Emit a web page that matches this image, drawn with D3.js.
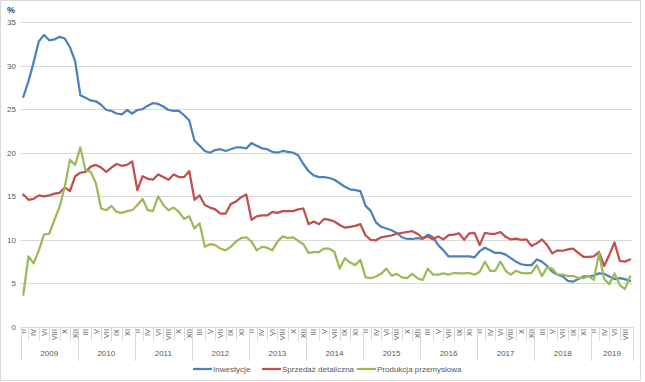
<!DOCTYPE html>
<html><head><meta charset="utf-8">
<script src="https://cdn.jsdelivr.net/npm/d3@7"></script>
<style>
html,body{margin:0;padding:0;background:#fff;}
svg{display:block;font-family:"Liberation Sans",Arial,sans-serif;}
</style></head>
<body>
<svg id="chart" width="645" height="382"></svg>
<script>
// ---- data ----
const years = ["2009","2010","2011","2012","2013","2014","2015","2016","2017","2018","2019"];
const monthLabels = ["II","III","IV","V","VI","VII","VIII","IX","X","XI","XII"];
const lastYearMonthCount = 8; // 2019: II..IX
const yTicks = [0,5,10,15,20,25,30,35];
const seriesNames = ["Inwestycje","Sprzedaż detaliczna","Produkcja przemysłowa"];

const inwestycje = [26.4,28.2,30.4,32.8,33.5,32.9,33.0,33.3,33.1,32.1,30.5,
 26.6,26.3,26.0,25.9,25.5,24.9,24.8,24.5,24.4,24.9,24.5,
 24.9,25.0,25.4,25.7,25.6,25.3,24.9,24.8,24.8,24.3,23.7,
 21.4,20.8,20.2,20.0,20.3,20.4,20.2,20.4,20.6,20.6,20.5,
 21.1,20.8,20.5,20.4,20.1,20.0,20.2,20.1,20.0,19.7,18.7,
 17.9,17.4,17.2,17.2,17.1,16.9,16.5,16.1,15.8,15.7,15.6,
 13.9,13.3,12.0,11.5,11.3,11.1,10.8,10.3,10.1,10.1,10.2,
 10.1,10.6,10.3,9.4,8.8,8.1,8.1,8.1,8.1,8.1,8.0,
 8.7,9.1,8.8,8.5,8.5,8.3,7.9,7.5,7.2,7.1,7.1,
 7.75,7.5,7.0,6.35,6.0,5.8,5.3,5.2,5.5,5.8,5.8,
 5.9,6.15,6.1,5.8,5.5,5.6,5.5,5.3];

const sprzedaz = [15.2,14.6,14.7,15.1,15.0,15.1,15.3,15.4,16.0,15.6,17.3,
 17.7,17.8,18.4,18.6,18.3,17.8,18.3,18.7,18.5,18.6,19.0,
 15.7,17.3,17.0,16.9,17.5,17.2,16.9,17.5,17.2,17.2,17.9,
 14.6,15.1,14.0,13.7,13.5,13.0,13.0,14.1,14.4,14.9,15.2,
 12.3,12.7,12.8,12.8,13.2,13.1,13.3,13.3,13.3,13.5,13.6,
 11.8,12.1,11.8,12.4,12.3,12.1,11.7,11.4,11.5,11.6,11.8,
 10.5,10.0,9.95,10.3,10.4,10.5,10.7,10.8,10.9,11.0,10.7,
 10.2,10.4,10.05,10.4,10.05,10.55,10.6,10.75,10.0,10.75,10.8,
 9.4,10.8,10.7,10.7,10.9,10.35,10.05,10.15,10.0,10.05,9.3,
 9.6,10.05,9.4,8.45,8.8,8.75,8.9,9.0,8.5,8.06,8.06,
 8.1,8.6,7.0,8.3,9.7,7.6,7.5,7.75];

const produkcja = [3.7,8.1,7.3,8.8,10.6,10.7,12.3,13.8,16.1,19.2,18.6,
 20.6,18.0,17.8,16.5,13.6,13.4,13.9,13.2,13.1,13.3,13.4,
 14.0,14.7,13.4,13.3,15.0,14.0,13.4,13.7,13.2,12.4,12.7,
 11.3,11.9,9.2,9.5,9.4,9.0,8.8,9.2,9.8,10.2,10.3,
 9.8,8.8,9.2,9.1,8.8,9.8,10.4,10.2,10.3,9.9,9.5,
 8.5,8.6,8.6,9.0,9.0,8.6,6.7,7.9,7.4,7.1,7.7,
 5.7,5.6,5.8,6.1,6.7,5.9,6.1,5.7,5.6,6.1,5.6,
 5.4,6.7,6.0,6.0,6.15,6.0,6.2,6.15,6.15,6.2,6.0,
 6.35,7.5,6.45,6.45,7.5,6.45,6.0,6.45,6.2,6.15,6.2,
 7.1,5.85,6.85,6.7,6.0,6.0,5.85,5.85,5.65,5.6,5.85,
 5.4,8.45,5.5,4.9,6.15,4.8,4.35,5.8];

const colors = ["#4F81BD","#C0504D","#9BBB59"];

// ---- categories ----
const categories = [];
years.forEach((yr, yi) => {
  const n = yi === years.length - 1 ? lastYearMonthCount : monthLabels.length;
  for (let m = 0; m < n; m++) categories.push({year: yr, month: monthLabels[m]});
});
categories.forEach((c, i) => c.idx = i);

// ---- layout ----
const svg = d3.select("#chart");
const plot = {left: 20.7, right: 632.7, top: 22, bottom: 327};
const textColor = "#595959";
const gridColor = "#D9D9D9";

svg.append("rect").attr("x",0.5).attr("y",0.5).attr("width",640).attr("height",380)
  .attr("fill","#fff").attr("stroke",gridColor);

const x = d3.scaleBand().domain(d3.range(categories.length)).range([plot.left, plot.right]).padding(0);
const xc = i => x(i) + x.bandwidth()/2;
const y = d3.scaleLinear().domain([0,35]).range([plot.bottom, plot.top]);

// gridlines
svg.append("g").selectAll("line").data(yTicks).join("line")
  .attr("x1",plot.left).attr("x2",plot.right)
  .attr("y1",d=>Math.round(y(d))+0.5).attr("y2",d=>Math.round(y(d))+0.5)
  .attr("stroke",gridColor).attr("stroke-width",1);

// y labels
svg.append("g").selectAll("text").data(yTicks).join("text")
  .attr("x",16).attr("y",d=>y(d)+3)
  .attr("text-anchor","end").attr("font-size","8px").attr("fill",textColor)
  .text(d=>d);

svg.append("text").attr("x",7).attr("y",13).attr("font-size","9px")
  .attr("font-weight","bold").attr("fill","#404040").text("%");

// x axis: month labels (every other category)
const labeled = categories.filter(c => c.idx % 2 === 0);
svg.append("g").selectAll("text").data(labeled).join("text")
  .attr("transform", c => `translate(${xc(c.idx)+2.6},329) rotate(-90)`)
  .attr("text-anchor","end").attr("font-size","7.5px").attr("fill",textColor)
  .text(c => c.month);

// year boundaries
const yearStarts = years.map(yr => categories.findIndex(c => c.year === yr));
const boundaries = yearStarts.map(i => x(i)).concat([plot.right]);
// minor separators between label slots
const minor = categories.filter(c => c.idx % 2 === 1).map(c => xc(c.idx))
  .filter(px => boundaries.every(b => Math.abs(b - px) > 3));
svg.append("g").selectAll("line").data(minor).join("line")
  .attr("x1",d=>Math.round(d)+0.5).attr("x2",d=>Math.round(d)+0.5)
  .attr("y1",plot.bottom).attr("y2",341)
  .attr("stroke",gridColor);
svg.append("g").selectAll("line").data(boundaries).join("line")
  .attr("x1",d=>Math.round(d)+0.5).attr("x2",d=>Math.round(d)+0.5)
  .attr("y1",plot.bottom).attr("y2",361)
  .attr("stroke",gridColor);

// year labels
svg.append("g").selectAll("text").data(years).join("text")
  .attr("x",(d,i)=>(boundaries[i]+boundaries[i+1])/2).attr("y",356)
  .attr("text-anchor","middle").attr("font-size","8px").attr("fill",textColor)
  .text(d=>d);

// series lines
const seriesData = [inwestycje, sprzedaz, produkcja];
const line = d3.line().x((d,i)=>xc(i)).y(d=>y(d));
svg.append("g").selectAll("path").data(seriesData).join("path")
  .attr("d", line).attr("fill","none")
  .attr("stroke",(d,i)=>colors[i]).attr("stroke-width",2.25)
  .attr("stroke-linejoin","round").attr("stroke-linecap","round");

// legend
const legendX = [193, 262, 357];
const lg = svg.append("g").selectAll("g").data(seriesNames).join("g")
  .attr("transform",(d,i)=>`translate(${legendX[i]},369)`);
lg.append("line").attr("x1",0).attr("x2",19).attr("y1",0).attr("y2",0)
  .attr("stroke",(d,i)=>colors[i]).attr("stroke-width",2.25);
lg.append("text").attr("x",20).attr("y",3).attr("font-size","8px").attr("fill",textColor)
  .text(d=>d);
</script>
</body></html>
